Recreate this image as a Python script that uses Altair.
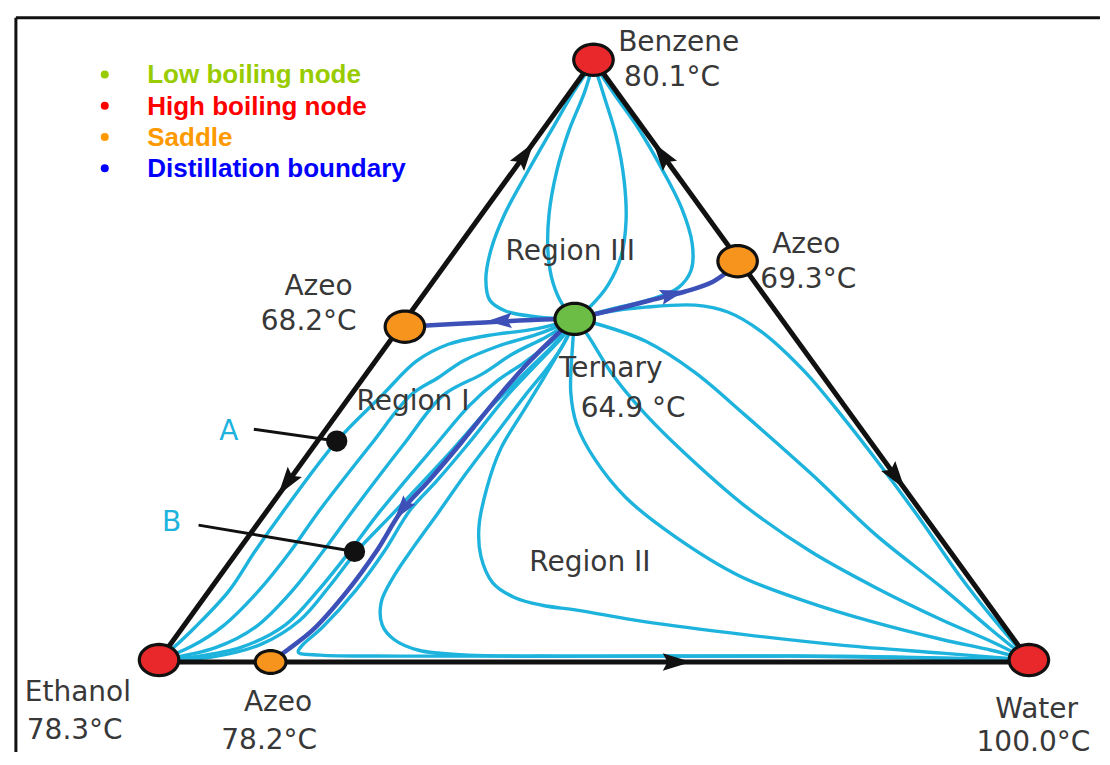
import math
import altair as alt
import pandas as pd

# ---------------- data (diagram coordinates, y grows downward) ----------------
# singular points of the residue curve map
node_labels = ["Benzene", "Ethanol", "Water", "Azeo 68.2", "Azeo 69.3", "Ternary"]
node_x = [597, 157, 1038, 406, 743, 578]
node_y = [57, 671, 671, 330, 263, 322]
node_kind = ["High boiling node", "High boiling node", "High boiling node",
             "Saddle", "Saddle", "Low boiling node"]
azeo_782_x = [270]
azeo_782_y = [673]

# triangle sides
side_left = [(157, 671), (597, 57)]
side_right = [(597, 57), (1038, 671)]
side_bottom = [(157, 673), (1038, 673)]

# residue curves, Region III (Benzene <-> Ternary)
rc_III_1 = [(597, 60), (578, 88), (555, 128), (530, 172), (507, 215), (493, 252), (488, 282),
            (492, 303), (508, 314), (540, 320), (578, 322)]
rc_III_2 = [(597, 60), (588, 90), (572, 130), (560, 170), (552, 215), (551, 255), (556, 285),
            (566, 308), (578, 322)]
rc_III_3 = [(597, 60), (608, 95), (620, 135), (628, 180), (630, 222), (625, 258), (612, 287),
            (595, 308), (578, 322)]
rc_III_4 = [(597, 60), (618, 92), (643, 128), (666, 168), (686, 208), (697, 245), (696, 272),
            (683, 290), (655, 302), (615, 312), (578, 322)]

# residue curves, Region I (Ternary -> Ethanol)
rc_I_1 = [(578, 322), (540, 332), (490, 339), (450, 348), (418, 365), (383, 400), (337, 447),
          (282, 520), (254, 560), (228, 600), (193, 638), (172, 658), (157, 671)]
rc_I_2 = [(578, 322), (545, 336), (500, 350), (465, 365), (440, 382), (412, 400), (372, 450),
          (318, 520), (290, 560), (258, 600), (222, 636), (190, 657), (157, 671)]
rc_I_3 = [(578, 322), (550, 340), (515, 358), (485, 378), (445, 400), (405, 450), (352, 520),
          (323, 560), (292, 600), (255, 637), (215, 658), (157, 671)]
rc_I_4 = [(578, 322), (555, 345), (525, 368), (500, 385), (472, 410), (438, 450), (380, 520),
          (350, 560), (318, 600), (285, 635), (240, 658), (190, 668), (157, 671)]
rc_I_5 = [(578, 322), (560, 345), (535, 370), (510, 395), (490, 415), (455, 455), (395, 520),
          (357, 560), (330, 595), (300, 630), (260, 655), (210, 668), (157, 671)]

# residue curves, Region II (Ternary -> Water)
rc_II_1 = [(578, 322), (610, 315), (650, 310), (700, 308), (733, 315), (767, 335), (810, 375),
           (850, 423), (890, 475), (930, 530), (968, 585), (1003, 630), (1038, 671)]
rc_II_2 = [(578, 322), (600, 327), (650, 345), (700, 377), (750, 420), (817, 480), (883, 543),
           (950, 597), (1000, 640), (1038, 671)]
rc_II_3 = [(578, 322), (590, 337), (617, 380), (650, 420), (690, 460), (750, 513), (817, 560),
           (883, 597), (950, 630), (1000, 652), (1038, 671)]
rc_II_4 = [(578, 322), (576, 347), (574, 397), (580, 430), (598, 465), (630, 505), (680, 545),
           (745, 585), (815, 612), (880, 632), (950, 650), (1000, 661), (1038, 671)]
rc_II_5 = [(578, 322), (568, 345), (548, 380), (525, 418), (503, 455), (489, 495), (481, 535),
           (483, 565), (495, 592), (517, 607), (545, 615), (580, 620), (650, 632), (750, 645),
           (850, 656), (950, 664), (1038, 671)]
rc_II_6 = [(578, 322), (570, 342), (552, 370), (528, 400), (498, 440), (468, 480), (440, 520),
           (415, 555), (395, 585), (382, 612), (383, 635), (395, 650), (420, 661), (470, 666),
           (560, 667), (700, 667), (850, 667), (1038, 671)]
rc_II_7 = [(578, 322), (566, 340), (538, 370), (510, 400), (470, 450), (438, 488), (411, 518),
           (385, 560), (356, 600), (322, 638), (302, 656), (298, 663), (320, 666), (400, 667),
           (600, 667), (800, 667), (1038, 671)]

# distillation boundaries (Ternary -> saddles)
db_to_682 = [(578, 322), (540, 323), (500, 325), (460, 327), (406, 330)]
db_to_693 = [(578, 322), (620, 312), (655, 303), (690, 294), (718, 284), (740, 268)]
db_to_782 = [(578, 322), (560, 338), (530, 368), (502, 400), (462, 450), (430, 488), (403, 518),
             (377, 560), (348, 600), (313, 640), (288, 660), (270, 673)]

# direction arrows: position and the direction they point to
black_arrow_pos = [(527, 155), (287, 489), (667, 155), (903, 483), (680, 673)]
black_arrow_dir = [(440, -614), (-440, 614), (-441, -614), (441, 614), (1, 0)]
blue_arrow_pos = [(503, 324), (676, 297), (404, 516)]
blue_arrow_dir = [(-1, 0.04), (1, -0.28), (-53, 72)]

# marked compositions A and B
point_labels = ["A", "B"]
point_x = [337, 355]
point_y = [447, 560]
pointer_from_x = [253, 197]
pointer_from_y = [435, 533]

# text annotations
label_text = ["Benzene", "80.1°C", "Azeo", "69.3°C", "Azeo", "68.2°C", "Region III",
              "Ternary", "64.9 °C", "Region I", "Region II", "Ethanol", "78.3°C",
              "Azeo", "78.2°C", "Water", "100.0°C"]
label_x = [622, 628, 778, 766, 284, 260, 508, 562, 584, 357, 532, 21, 23, 243, 220, 1004, 985]
label_y = [48, 84, 255, 290, 298, 333, 262, 381, 422, 415, 580, 713, 752, 723, 762, 730, 764]
ab_label_x = [218, 160]
ab_label_y = [446, 539]

legend_labels = ["Low boiling node", "High boiling node", "Saddle", "Distillation boundary"]
legend_y = [72, 104, 136, 168]

# ---------------- styles ----------------
CYAN = "#1db3dd"
BLUE = "#3d50b8"
TEXT_GRAY = "#383838"
KIND_COLORS = ["#6cbd45", "#e8282b", "#f7941d"]
LEGEND_COLORS = ["#99cc00", "#ff0000", "#ff9900", "#0000ff"]


def ellipse_path(ratio, n=48):
    pts = []
    for k in range(n):
        t = 2 * math.pi * k / n
        pts.append(f"{math.cos(t):.4f},{ratio * math.sin(t):.4f}")
    return "M" + " L".join(pts) + " Z"


ELLIPSE = ellipse_path(0.79)
ELLIPSE_SMALL = ellipse_path(0.74)
ARROW = "M0,-1 L0.55,0.8 L0,0.5 L-0.55,0.8 Z"


def curves_frame(curves):
    rows = []
    for cid, pts in curves.items():
        for i, (x, y) in enumerate(pts):
            rows.append({"id": cid, "i": i, "x": x, "y": y})
    return pd.DataFrame(rows)


def heading(dx, dy):
    return math.degrees(math.atan2(dx, -dy)) % 360


XS = alt.Scale(domain=[4, 1106], nice=False, zero=False)
YS = alt.Scale(domain=[4, 761], nice=False, zero=False, reverse=True)
X = alt.X("x:Q", scale=XS, axis=None)
Y = alt.Y("y:Q", scale=YS, axis=None)

cyan_df = curves_frame({
    "III_1": rc_III_1, "III_2": rc_III_2, "III_3": rc_III_3, "III_4": rc_III_4,
    "I_1": rc_I_1, "I_2": rc_I_2, "I_3": rc_I_3, "I_4": rc_I_4, "I_5": rc_I_5,
    "II_1": rc_II_1, "II_2": rc_II_2, "II_3": rc_II_3, "II_4": rc_II_4,
    "II_5": rc_II_5, "II_6": rc_II_6, "II_7": rc_II_7,
})
blue_df = curves_frame({"b682": db_to_682, "b693": db_to_693, "b782": db_to_782})
side_df = curves_frame({"left": side_left, "right": side_right, "bottom": side_bottom})

cyan_layer = alt.Chart(cyan_df).mark_line(
    color=CYAN, strokeWidth=3.4, interpolate="catmull-rom"
).encode(x=X, y=Y, detail="id:N", order="i:Q")

blue_layer = alt.Chart(blue_df).mark_line(
    color=BLUE, strokeWidth=4.5, interpolate="catmull-rom"
).encode(x=X, y=Y, detail="id:N", order="i:Q")

side_layer = alt.Chart(side_df).mark_line(
    color="#111111", strokeWidth=5
).encode(x=X, y=Y, detail="id:N", order="i:Q")

black_arrow_df = pd.DataFrame({
    "x": [p[0] for p in black_arrow_pos], "y": [p[1] for p in black_arrow_pos],
    "angle": [heading(*d) for d in black_arrow_dir],
})
blue_arrow_df = pd.DataFrame({
    "x": [p[0] for p in blue_arrow_pos], "y": [p[1] for p in blue_arrow_pos],
    "angle": [heading(*d) for d in blue_arrow_dir],
})
black_arrows = alt.Chart(black_arrow_df).mark_point(
    shape=ARROW, filled=True, color="#111111", size=1000, opacity=1
).encode(x=X, y=Y, angle=alt.Angle("angle:Q", scale=None))
blue_arrows = alt.Chart(blue_arrow_df).mark_point(
    shape=ARROW, filled=True, color=BLUE, size=760, opacity=1
).encode(x=X, y=Y, angle=alt.Angle("angle:Q", scale=None))

pointer_df = pd.DataFrame({"x": pointer_from_x, "y": pointer_from_y,
                           "x2": point_x, "y2": point_y})
pointers = alt.Chart(pointer_df).mark_rule(color="#111111", strokeWidth=3).encode(
    x=X, y=Y, x2="x2:Q", y2="y2:Q")
ab_df = pd.DataFrame({"label": point_labels, "x": point_x, "y": point_y})
ab_dots = alt.Chart(ab_df).mark_point(
    shape="circle", filled=True, color="#111111", size=450, opacity=1
).encode(x=X, y=Y)

node_df = pd.DataFrame({"name": node_labels, "x": node_x, "y": node_y, "kind": node_kind})
kind_scale = alt.Scale(domain=["Low boiling node", "High boiling node", "Saddle"],
                       range=KIND_COLORS)
nodes = alt.Chart(node_df).mark_point(
    shape=ELLIPSE, filled=True, size=1560, stroke="#111111", strokeWidth=3.2,
    opacity=1, fillOpacity=1, strokeOpacity=1
).encode(x=X, y=Y, fill=alt.Fill("kind:N", scale=kind_scale, legend=None))
small_df = pd.DataFrame({"x": azeo_782_x, "y": azeo_782_y, "kind": ["Saddle"]})
small_node = alt.Chart(small_df).mark_point(
    shape=ELLIPSE_SMALL, filled=True, size=950, stroke="#111111", strokeWidth=3.2,
    opacity=1, fillOpacity=1, strokeOpacity=1
).encode(x=X, y=Y, fill=alt.Fill("kind:N", scale=kind_scale, legend=None))

label_df = pd.DataFrame({"text": label_text, "x": label_x, "y": label_y})
labels = alt.Chart(label_df).mark_text(
    align="left", baseline="alphabetic", font="DejaVu Sans", fontSize=28, color=TEXT_GRAY
).encode(x=X, y=Y, text="text:N")

ab_text_df = pd.DataFrame({"text": point_labels, "x": ab_label_x, "y": ab_label_y})
ab_text = alt.Chart(ab_text_df).mark_text(
    align="left", baseline="alphabetic", font="DejaVu Sans", fontSize=28, color=CYAN
).encode(x=X, y=Y, text="text:N")

legend_df = pd.DataFrame({"label": legend_labels, "y": legend_y,
                          "bx": [102] * 4, "tx": [145] * 4,
                          "ty": [v + 9 for v in legend_y]})
leg_scale = alt.Scale(domain=legend_labels, range=LEGEND_COLORS)
legend_dots = alt.Chart(legend_df).mark_point(
    shape="circle", filled=True, size=64, opacity=1
).encode(x=alt.X("bx:Q", scale=XS, axis=None), y=Y,
         color=alt.Color("label:N", scale=leg_scale, legend=None))
legend_text = alt.Chart(legend_df).mark_text(
    align="left", baseline="alphabetic", font="Liberation Sans", fontWeight="bold", fontSize=26
).encode(x=alt.X("tx:Q", scale=XS, axis=None),
         y=alt.Y("ty:Q", scale=YS, axis=None),
         text="label:N",
         color=alt.Color("label:N", scale=leg_scale, legend=None))

frame_df = pd.DataFrame({"x": [12, 12], "y": [14, 14], "x2": [1110, 12], "y2": [14, 765]})
frame = alt.Chart(frame_df).mark_rule(color="#111111", strokeWidth=3).encode(
    x=X, y=Y, x2="x2:Q", y2="y2:Q")

chart = alt.layer(
    frame, cyan_layer, blue_layer, side_layer, black_arrows, blue_arrows,
    pointers, ab_dots, nodes, small_node, labels, ab_text, legend_dots, legend_text
).properties(
    width=1094, height=749, padding=0,
    autosize=alt.AutoSizeParams(type="fit", contains="padding"),
    background="white"
).configure_view(stroke=None)

chart.save("out.html", embed_options={"renderer": "svg", "actions": False})
